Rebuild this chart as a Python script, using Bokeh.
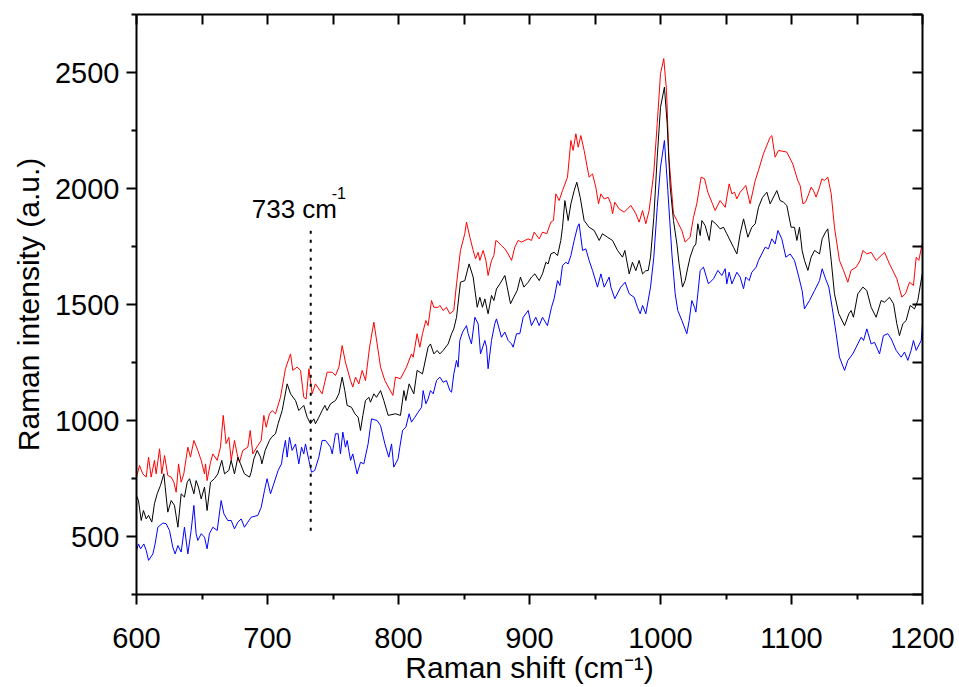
from bokeh.plotting import figure
from bokeh.models import LinearAxis, Range1d, FixedTicker, Label
from bokeh.embed import file_html
from bokeh.resources import INLINE

# ---- data (Raman shift in cm-1, intensity in a.u.) ----
red_shift = [
    600.0, 602.3, 604.8, 607.4, 609.2, 611.2, 613.7, 615.0, 617.6, 619.3, 621.4, 623.9, 626.5, 628.5, 630.3, 632.1,
    634.1, 636.1, 639.2, 641.2, 643.8, 646.8, 649.4, 651.9, 652.7, 653.9, 656.5, 658.3, 661.6, 664.1, 666.2, 668.4,
    670.5, 672.3, 674.8, 676.8, 678.6, 681.2, 685.0, 686.8, 688.8, 692.6, 695.2, 697.2, 699.0, 701.5,
    703.6, 706.1, 709.9, 713.7, 717.6, 719.3, 722.6, 725.2, 727.7, 729.5, 731.6, 734.1, 736.6, 741.7, 745.5, 749.4,
    751.9, 754.5, 757.0, 759.5, 763.4, 765.1, 767.2, 769.7, 772.3, 774.8, 777.9, 781.2, 783.7, 786.3, 789.6, 795.7,
    797.7, 801.5,
    806.1, 809.9, 811.2, 812.5, 814.2, 816.3, 818.3, 820.9, 822.6, 825.2, 827.0, 830.3, 831.6, 834.1, 836.6, 839.2,
    842.2, 844.3, 847.3, 850.6, 851.9, 854.5, 857.0, 858.8, 860.8, 862.1, 864.6, 866.7, 868.4, 871.0, 872.8, 874.3,
    876.1, 878.6, 881.2, 883.7, 886.3, 888.8, 891.3, 893.9, 899.0, 901.5,
    903.6, 907.4, 909.9, 913.2, 916.3, 918.3, 920.1, 922.6, 925.2, 929.0, 931.6, 933.3, 935.4, 937.2, 939.2, 941.7,
    945.5, 948.1, 950.6, 952.7, 954.5, 957.0, 960.1, 962.1, 963.4, 965.1, 968.4, 972.3, 977.4, 981.2, 983.7, 986.3,
    988.8, 991.3, 994.9, 997.5, 1000.0, 1002.5, 1004.6, 1006.4,
    1009.9, 1012.5, 1016.3, 1018.8, 1022.6, 1025.2, 1027.7, 1031.0, 1033.6, 1036.1, 1039.2, 1041.7, 1045.5, 1049.4,
    1052.4, 1054.5, 1056.5, 1058.3, 1060.8, 1065.1, 1068.4, 1072.3, 1074.8, 1078.6, 1083.7, 1085.0, 1087.5, 1090.1,
    1096.4,
    1101.0, 1104.8, 1106.6, 1108.7, 1110.7, 1113.2, 1115.0, 1116.8, 1118.8, 1121.4, 1123.2, 1125.2, 1127.7, 1130.3,
    1132.8, 1136.6, 1139.7, 1143.0, 1145.5, 1149.4, 1152.4, 1154.5, 1157.5, 1160.8, 1164.6, 1171.0, 1174.8, 1180.4,
    1184.2, 1187.0, 1190.1, 1193.1, 1195.2, 1197.2, 1200.0,
]
red_intensity = [
    756, 806, 770, 756, 842, 756, 828, 770, 878, 770, 849, 763, 756, 734, 691, 813,
    734, 770, 885, 842, 914, 871, 828, 770, 813, 741, 820, 856, 828, 885, 1022, 900,
    928, 828, 914, 856, 820, 871, 885, 957, 856, 892, 914, 1022, 971, 1029,
    1043, 1029, 1100, 1223, 1287, 1216, 1230, 1216, 1100, 1093, 1223, 1115, 1158, 1115, 1208, 1208,
    1194, 1230, 1323, 1251, 1172, 1144, 1187, 1158, 1216, 1172, 1316, 1424, 1330, 1230, 1172, 1108,
    1187, 1180,
    1230, 1287, 1273, 1316, 1374, 1316, 1374, 1431, 1409, 1517, 1488, 1488, 1496, 1474, 1488, 1460,
    1474, 1589, 1733, 1805, 1855, 1790, 1733, 1697, 1725, 1690, 1733, 1690, 1625, 1690, 1711, 1776,
    1769, 1754, 1740, 1718, 1690, 1747, 1776, 1769, 1783, 1776,
    1812, 1783, 1812, 1805, 1855, 1862, 1977, 1948, 1991, 2049, 2207, 2164, 2236, 2178, 2228, 2164,
    2049, 2063, 2006, 1934, 1977, 1955, 1962, 1934, 1891, 1941, 1912, 1898, 1927, 1891, 1855, 1905,
    1848, 1905, 2070, 2280, 2495, 2560, 2422, 2135,
    1891, 1862, 1819, 1769, 1790, 1876, 1934, 2049, 2042, 1984, 1941, 1905, 1948, 1919,
    2020, 1977, 1984, 1955, 1984, 2013, 1934, 2034, 2078, 2150, 2221, 2228, 2135, 2164,
    2157,
    2106, 2034, 2013, 1934, 1941, 1977, 2006, 1991, 1963, 2006, 2042, 2034, 2049, 1977,
    1833, 1690, 1647, 1596, 1647, 1661, 1690, 1733, 1718, 1725, 1690, 1725, 1675, 1611,
    1532, 1546, 1596, 1582, 1704, 1690, 1769,
]

black_shift = [
    600.0, 601.5, 603.6, 605.3, 607.4, 609.2, 611.7, 613.7, 615.8, 618.3, 620.9, 621.9, 623.9, 626.5, 629.0, 631.6,
    634.1, 636.6, 638.7, 640.5, 643.8, 645.5, 647.3, 649.4, 651.9, 653.9, 656.5, 659.5, 662.1, 665.1, 667.2, 670.5,
    672.3, 674.8, 677.4, 679.4, 682.4, 686.3, 687.5, 689.6, 692.1, 694.7, 695.7, 698.2, 701.5,
    703.1, 706.1, 708.1, 711.2, 715.0, 717.6, 721.4, 723.9, 727.7, 730.3, 732.8, 735.4, 736.6, 739.2, 741.7, 743.8,
    745.5, 748.1, 751.9, 754.5, 757.0, 759.0, 760.8, 764.1, 766.7, 769.2, 771.0, 772.8, 774.8, 777.4, 778.6, 781.2,
    783.2, 786.3, 788.8, 792.1, 797.7, 801.5,
    804.1, 805.6, 808.1, 811.7, 814.2, 818.3, 822.6, 824.4, 827.0, 829.5, 831.6, 834.1, 837.9, 840.5, 842.2, 844.3,
    847.3, 850.6, 853.9, 857.0, 860.1, 862.1, 864.1, 865.9, 868.4, 871.0, 872.8, 874.8, 877.4, 881.2, 883.0, 885.5,
    888.0, 890.6, 893.1, 895.7, 899.0, 901.5,
    904.1, 907.4, 909.9, 912.5, 914.2, 916.3, 918.8, 921.4, 923.9, 925.2, 927.0, 929.5, 931.6, 934.1, 936.1, 938.7,
    941.7, 945.5, 949.4, 953.2, 955.7, 959.5, 963.4, 967.2, 971.0, 972.8, 976.1, 978.6, 981.2, 983.7, 986.3, 988.8,
    990.6, 992.4, 994.9, 997.5, 1000.0, 1003.0, 1005.1,
    1007.4, 1009.9, 1012.5, 1014.2, 1016.8, 1018.8, 1020.9, 1022.6, 1025.2, 1027.0, 1028.5, 1030.3, 1031.6, 1034.1,
    1037.2, 1039.2, 1042.2, 1045.5, 1048.1, 1050.6, 1055.7, 1058.3, 1060.8, 1063.4, 1066.7, 1069.7, 1072.3, 1074.8,
    1077.9, 1081.2, 1083.7, 1088.8, 1091.3, 1093.9, 1096.4, 1099.7,
    1102.3, 1104.1, 1106.1, 1108.1, 1109.9, 1112.5, 1115.0, 1117.6, 1121.4, 1123.4, 1126.0, 1127.7, 1130.3, 1132.8,
    1136.1, 1140.5, 1143.8, 1145.5, 1147.3, 1150.6, 1154.5, 1157.5, 1160.8, 1164.6, 1168.4, 1171.0, 1174.8, 1177.9,
    1180.4, 1182.4, 1185.0, 1187.5, 1190.6, 1193.9, 1196.4, 1200.0,
]
black_intensity = [
    677, 655, 569, 612, 576, 591, 562, 641, 684, 720, 770, 713, 605, 655, 634, 540,
    684, 670, 734, 749, 684, 741, 713, 662, 713, 612, 734, 749, 770, 828, 770, 785,
    828, 770, 842, 813, 770, 756, 777, 835, 871, 842, 813, 871, 914,
    928, 943, 986, 1043, 1158, 1115, 1086, 1043, 1065, 1014, 986, 1007, 986, 1014, 1043, 1065,
    1043, 1072, 1086, 1115, 1187, 1129, 1065, 1057, 1029, 1014, 957, 1022, 1086, 1100, 1079, 1115,
    1100, 1129, 1086, 1022, 1029, 1022,
    1129, 1086, 1158, 1115, 1216, 1201, 1316, 1330, 1287, 1302, 1287, 1302, 1330, 1374, 1395, 1445,
    1596, 1603, 1675, 1618, 1488, 1531, 1488, 1524, 1460, 1539, 1517, 1567, 1589, 1625, 1575, 1503,
    1532, 1560, 1618, 1575, 1596, 1618,
    1632, 1603, 1632, 1682, 1675, 1718, 1725, 1711, 1776, 1833, 1948, 1862, 1934, 1991, 2027, 1962,
    1862, 1833, 1819, 1776, 1805, 1790, 1776, 1733, 1704, 1733, 1632, 1682, 1646, 1690, 1632, 1646,
    1646, 1704, 1876, 2135, 2350, 2437, 2279,
    2006, 1862, 1761, 1675, 1575, 1603, 1661, 1704, 1747, 1761, 1848, 1797, 1862, 1840,
    1776, 1862, 1848, 1826, 1833, 1805, 1747, 1718, 1805, 1869, 1790, 1833, 1848, 1919,
    1962, 1984, 1934, 1991, 1948, 1941, 1927, 1833,
    1833, 1776, 1833, 1733, 1690, 1647, 1704, 1733, 1718, 1783, 1812, 1826, 1690, 1546,
    1460, 1409, 1460, 1474, 1445, 1546, 1575, 1560, 1488, 1445, 1517, 1510, 1531, 1503,
    1417, 1366, 1417, 1431, 1496, 1481, 1517, 1639,
]

blue_shift = [
    600.0, 601.5, 603.1, 605.6, 607.4, 609.2, 612.5, 614.2, 616.3, 620.1, 622.6, 625.2, 627.7, 629.5, 631.6, 634.1,
    636.6, 639.2, 641.7, 643.8, 645.5, 646.8, 649.4, 651.9, 653.9, 655.7, 658.3, 661.6, 664.6, 666.7, 669.7, 672.3,
    674.8, 677.4, 679.9, 682.4, 685.0, 687.5, 692.6, 695.2, 697.7, 699.7,
    702.3, 704.8, 708.1, 710.7, 711.7, 713.7, 715.0, 716.8, 718.8, 721.4, 723.9, 726.0, 727.7, 729.0, 731.6, 733.6,
    736.1, 739.2, 741.7, 744.3, 748.1, 749.4, 751.9, 753.9, 755.7, 757.5, 759.5, 760.8, 763.4, 765.1, 768.4, 771.0,
    773.5, 776.8, 779.4, 783.7, 786.3, 789.6, 792.6, 794.7, 796.4,
    799.7, 801.0, 803.1, 805.6, 808.1, 809.9, 812.5, 815.0, 817.6, 818.8, 820.9, 822.6, 824.4, 826.5, 829.0, 831.6,
    834.1, 836.6, 839.2, 840.5, 842.2, 844.3, 845.5, 846.8, 848.9, 851.9, 853.2, 855.7, 858.3, 860.8, 862.6, 865.9,
    867.2, 868.4, 871.0, 873.5, 874.8, 878.6, 881.2, 883.7, 886.3, 887.5, 890.1, 892.6, 895.2, 899.0, 901.5,
    904.8, 907.4, 909.9, 913.7, 916.8, 918.8, 921.4, 923.2, 925.2, 927.7, 929.5, 931.6, 934.1, 936.6, 937.9, 940.5,
    943.0, 945.5, 948.1, 951.9, 954.5, 957.0, 960.8, 962.1, 965.1, 969.7, 973.0, 976.1, 979.9, 982.4, 984.5, 986.3,
    988.8, 992.4, 994.9, 997.5, 1000.0, 1003.0,
    1005.6, 1008.7, 1011.2, 1013.2, 1016.3, 1020.1, 1021.9, 1023.9, 1026.0, 1027.0, 1028.5, 1030.3, 1032.8, 1036.6,
    1040.5, 1043.8, 1046.8, 1049.4, 1050.6, 1052.4, 1054.5, 1058.3, 1060.8, 1063.4, 1065.1, 1067.7, 1069.7, 1073.0,
    1074.8, 1079.9, 1082.4, 1085.0, 1087.5, 1089.6, 1092.6, 1095.7, 1099.0,
    1102.3, 1105.6, 1108.1, 1109.9, 1113.7, 1117.6, 1121.4, 1123.4, 1126.0, 1128.5, 1131.0, 1134.1, 1136.6, 1140.5,
    1143.0, 1146.8, 1150.6, 1153.2, 1155.0, 1157.5, 1160.8, 1163.4, 1167.2, 1170.2, 1173.5, 1176.1, 1179.9, 1183.7,
    1186.3, 1188.8, 1191.3, 1193.1, 1195.2, 1199.0, 1200.0,
]
blue_intensity = [
    440, 468, 447, 468, 440, 397, 425, 468, 540, 558, 555, 526, 454, 425, 461, 433,
    540, 425, 526, 634, 512, 483, 512, 497, 447, 512, 540, 526, 655, 598, 569, 569,
    533, 562, 576, 540, 562, 583, 591, 626, 698, 749,
    684, 727, 785, 813, 856, 914, 842, 928, 871, 899, 813, 885, 856, 899, 828, 777,
    785, 842, 914, 914, 885, 856, 943, 943, 856, 950, 885, 914, 828, 856, 770, 820,
    813, 899, 1007, 1000, 978, 899, 842, 899, 799,
    835, 885, 957, 971, 1029, 993, 1014, 1036, 1057, 1129, 1072, 1093, 1129, 1115, 1172, 1187,
    1165, 1172, 1129, 1122, 1201, 1259, 1230, 1345, 1381, 1409, 1374, 1330, 1445, 1417, 1287, 1345,
    1316, 1223, 1345, 1417, 1438, 1359, 1381, 1345, 1330, 1316, 1374, 1374, 1445, 1474, 1409,
    1445, 1409, 1445, 1409, 1488, 1525, 1603, 1582, 1668, 1682, 1675, 1711, 1776, 1833, 1848, 1733,
    1740, 1690, 1647, 1575, 1632, 1575, 1618, 1575, 1525, 1575, 1596, 1546, 1531, 1488, 1460, 1496,
    1460, 1575, 1704, 1919, 2092, 2207,
    1991, 1718, 1546, 1474, 1431, 1374, 1431, 1517, 1488, 1467, 1546, 1647, 1661, 1589,
    1611, 1647, 1625, 1654, 1589, 1639, 1589, 1639, 1618, 1568, 1618, 1603, 1639, 1661,
    1690, 1747, 1740, 1783, 1761, 1819, 1783, 1704, 1718,
    1690, 1618, 1560, 1481, 1517, 1560, 1603, 1654, 1611, 1575, 1488, 1374, 1273, 1216,
    1259, 1287, 1330, 1359, 1345, 1395, 1330, 1337, 1287, 1366, 1374, 1352, 1302, 1273,
    1295, 1259, 1302, 1345, 1302, 1345, 1417,
]

marker_shift = 733
marker_span = [525, 1830]
marker_text = "733 cm"
marker_sup = "-1"

x_ticks = [600, 700, 800, 900, 1000, 1100, 1200]
x_minor = [650, 750, 850, 950, 1050, 1150]
y_ticks = [500, 1000, 1500, 2000, 2500]
y_minor = [250, 750, 1250, 1750, 2250, 2750]

FONT = "Liberation Sans"

p = figure(width=959, height=687,
           x_range=Range1d(600, 1200), y_range=Range1d(250, 2750),
           output_backend="svg", toolbar_location=None,
           min_border_left=136, min_border_right=37,
           min_border_top=14, min_border_bottom=93,
           x_axis_location=None, y_axis_location=None)
p.xgrid.visible = False
p.ygrid.visible = False
p.outline_line_color = None
p.background_fill_color = "white"
p.border_fill_color = "white"

# bottom and left axes (ticks outward, labelled)
xb = LinearAxis(axis_label="Raman shift (cm⁻¹)")
xb.ticker = FixedTicker(ticks=x_ticks, minor_ticks=x_minor)
yl = LinearAxis(axis_label="Raman intensity (a.u.)")
yl.ticker = FixedTicker(ticks=y_ticks, minor_ticks=y_minor)
for ax in (xb, yl):
    ax.axis_line_width = 2
    ax.major_tick_line_width = 2
    ax.minor_tick_line_width = 2
    ax.major_tick_out = 10
    ax.major_tick_in = 0
    ax.minor_tick_out = 5
    ax.minor_tick_in = 0
    ax.major_label_text_font = FONT
    ax.major_label_text_font_size = "29px"
    ax.major_label_text_color = "black"
    ax.axis_label_text_font = FONT
    ax.axis_label_text_font_size = "30px"
    ax.axis_label_text_font_style = "normal"
    ax.axis_label_text_color = "black"
xb.major_label_standoff = 23
xb.axis_label_standoff = 0
yl.major_label_standoff = 7
yl.axis_label_standoff = 7
p.add_layout(xb, "below")
p.add_layout(yl, "left")

# top and right frame axes: inward ticks only, no labels
xt = LinearAxis()
xt.ticker = FixedTicker(ticks=[], minor_ticks=x_ticks + x_minor)
yr = LinearAxis()
yr.ticker = FixedTicker(ticks=[], minor_ticks=y_ticks + y_minor)
for ax in (xt, yr):
    ax.axis_line_width = 2
    ax.major_tick_line_color = None
    ax.minor_tick_line_width = 2
    ax.minor_tick_in = 10
    ax.minor_tick_out = 0
    ax.major_label_standoff = 0
p.add_layout(xt, "above")
p.add_layout(yr, "right")

p.line(red_shift, red_intensity, line_color="#ff0000", line_width=1)
p.line(black_shift, black_intensity, line_color="#000000", line_width=1)
p.line(blue_shift, blue_intensity, line_color="#0000ff", line_width=1)

p.line([marker_shift, marker_shift], marker_span, line_color="black",
       line_width=2, line_dash="3 6")

p.add_layout(Label(x=marker_shift, y=marker_span[1], x_offset=-59, y_offset=19,
                   text=marker_text, text_font=FONT, text_font_size="26px",
                   text_color="black", text_baseline="alphabetic", text_align="left"))
p.add_layout(Label(x=marker_shift, y=marker_span[1], x_offset=21, y_offset=35,
                   text=marker_sup, text_font=FONT, text_font_size="16px",
                   text_color="black", text_baseline="alphabetic", text_align="left"))

open("out.html", "w").write(file_html(p, INLINE))
